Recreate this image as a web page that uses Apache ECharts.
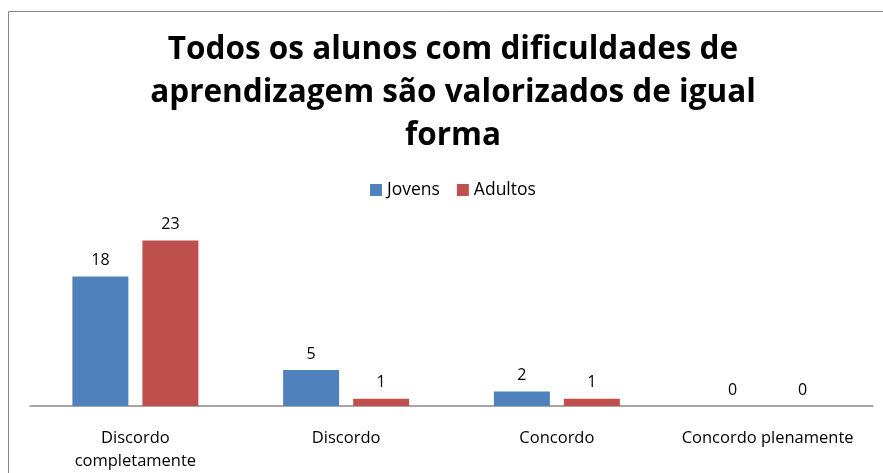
<!DOCTYPE html>
<html>
<head>
<meta charset="utf-8">
<script src="https://cdn.jsdelivr.net/npm/echarts@6/dist/echarts.min.js"></script>
<style>
  html, body { margin: 0; padding: 0; background: #fff; }
  #chart { width: 883px; height: 473px; }
</style>
</head>
<body>
<div id="chart"></div>
<script>
// dados
const categorias = ['Discordo\ncompletamente', 'Discordo', 'Concordo', 'Concordo plenamente']
const jovens = [18, 5, 2, 0]
const adultos = [23, 1, 1, 0]
const titulo = 'Todos os alunos com dificuldades de\naprendizagem são valorizados de igual\nforma'

const myChart = echarts.init(document.getElementById('chart'))

const fonte = 'Open Sans, Noto Sans, sans-serif'
const labelStyle = { show: true, position: 'top', color: '#000', fontSize: 16, fontFamily: fonte, distance: 8 }

myChart.setOption({
    animation: false,
    title: {
        text: titulo,
        left: 448,
        top: 24,
        textAlign: 'center',
        textStyle: { fontSize: 31.5, fontWeight: 'bold', color: '#000', fontFamily: fonte, lineHeight: 43 }
    },
    legend: {
        data: ['Jovens', 'Adultos'],
        top: 176,
        left: 365,
        itemWidth: 12,
        itemHeight: 12,
        itemGap: 17,
        icon: 'rect',
        textStyle: { fontSize: 17.5, color: '#000', fontFamily: fonte }
    },
    grid: { left: 30, right: 10, top: 226, bottom: 67, containLabel: false },
    xAxis: {
        type: 'category',
        data: categorias,
        axisLine: { lineStyle: { color: '#898989', width: 1.5 } },
        axisTick: { show: false },
        axisLabel: { interval: 0, color: '#000', fontSize: 16.5, fontFamily: fonte, margin: 21, lineHeight: 23 }
    },
    yAxis: {
        type: 'value',
        min: 0,
        max: 25,
        show: false
    },
    series: [
        {
            name: 'Jovens',
            type: 'bar',
            data: jovens,
            barWidth: 56,
            barGap: '25%',
            itemStyle: { color: '#4f81bd' },
            label: labelStyle
        },
        {
            name: 'Adultos',
            type: 'bar',
            data: adultos,
            barWidth: 56,
            itemStyle: { color: '#c0504d' },
            label: labelStyle
        }
    ],
    graphic: [{
        type: 'rect',
        shape: { x: 8.5, y: 11.5, width: 900, height: 500 },
        style: { fill: 'none', stroke: '#888', lineWidth: 1 },
        silent: true
    }]
})
</script>
</body>
</html>
